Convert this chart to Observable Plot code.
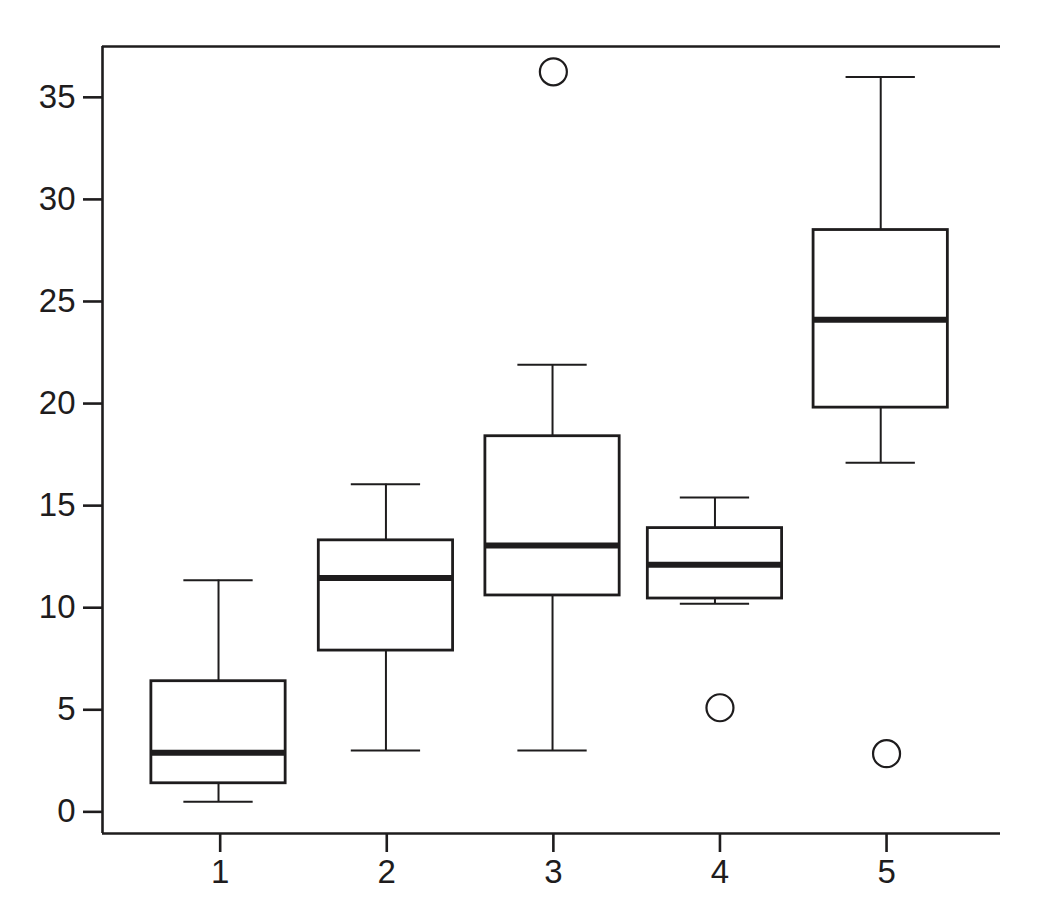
<!DOCTYPE html>
<html>
<head>
<meta charset="utf-8">
<script src="https://cdn.jsdelivr.net/npm/d3@7"></script>
<script src="https://cdn.jsdelivr.net/npm/@observablehq/plot@0.6"></script>
<style>
  html, body { margin: 0; padding: 0; background: #fff; }
  #chart svg { display: block; }
</style>
</head>
<body>
<div id="chart"></div>
<script>
// Box summary per group
const groups    = [1, 2, 3, 4, 5];
const boxCenter = [0.99, 1.995, 2.995, 3.97, 4.965]; // boxes sit slightly left of ticks 4 and 5
const whiskerLo = [0.5, 3.0, 3.0, 10.2, 17.1];
const q1        = [1.4, 7.9, 10.6, 10.45, 19.8];
const median    = [2.9, 11.45, 13.05, 12.1, 24.1];
const q3        = [6.4, 13.3, 18.4, 13.9, 28.5];
const whiskerHi = [11.35, 16.05, 21.9, 15.4, 36.0];
const outlierGroup = [3, 4, 5];
const outlierValue = [36.25, 5.1, 2.85];
const yTicks = [0, 5, 10, 15, 20, 25, 30, 35];

const boxes = groups.map((g, i) => ({
  g: boxCenter[i], lo: whiskerLo[i], q1: q1[i], med: median[i], q3: q3[i], hi: whiskerHi[i]
}));
const outliers = outlierGroup.map((g, i) => ({g, v: outlierValue[i]}));

const xDom = [0.2936, 5.684];
const yDom = [-1.06, 37.49];
const halfBox = 0.403, halfCap = 0.208;
const ink = "#1e1c1d";

const chart = Plot.plot({
  width: 1050,
  height: 920,
  marginLeft: 102,
  marginRight: 50,
  marginTop: 46,
  marginBottom: 87,
  style: {fontFamily: "'Liberation Sans', Arial, sans-serif", fontSize: "33px", color: ink, background: "#fff"},
  x: {type: "linear", domain: xDom, axis: null},
  y: {domain: yDom, axis: null},
  marks: [
    // axes lines / frame
    Plot.ruleX([xDom[0]], {stroke: ink, strokeWidth: 2.6}),
    Plot.ruleY([yDom[0]], {x1: xDom[0], x2: xDom[1], stroke: ink, strokeWidth: 2.6}),
    Plot.ruleY([yDom[1]], {x1: xDom[0], x2: xDom[1], stroke: ink, strokeWidth: 2.6}),
    Plot.axisY(yTicks, {anchor: "left", tickSize: 19, tickPadding: 8, strokeWidth: 2.6, stroke: ink, fill: ink, fontSize: 33, label: null}),
    Plot.axisX(groups, {anchor: "bottom", tickSize: 19, tickPadding: 7, strokeWidth: 2.6, stroke: ink, fill: ink, fontSize: 33, label: null, tickFormat: d => String(d)}),
    // whiskers
    Plot.ruleX(boxes, {x: "g", y1: "q3", y2: "hi", stroke: ink, strokeWidth: 2}),
    Plot.ruleX(boxes, {x: "g", y1: "q1", y2: "lo", stroke: ink, strokeWidth: 2}),
    Plot.ruleY(boxes, {y: "hi", x1: d => d.g - halfCap, x2: d => d.g + halfCap, stroke: ink, strokeWidth: 2}),
    Plot.ruleY(boxes, {y: "lo", x1: d => d.g - halfCap, x2: d => d.g + halfCap, stroke: ink, strokeWidth: 2}),
    // boxes
    Plot.rect(boxes, {x1: d => d.g - halfBox, x2: d => d.g + halfBox, y1: "q1", y2: "q3", fill: "white", stroke: ink, strokeWidth: 2.8}),
    // medians
    Plot.ruleY(boxes, {y: "med", x1: d => d.g - halfBox, x2: d => d.g + halfBox, stroke: ink, strokeWidth: 6}),
    // outliers
    Plot.dot(outliers, {x: "g", y: "v", r: 13.5, stroke: ink, strokeWidth: 2.2, fill: "none"})
  ]
});
document.getElementById("chart").appendChild(chart);
</script>
</body>
</html>
